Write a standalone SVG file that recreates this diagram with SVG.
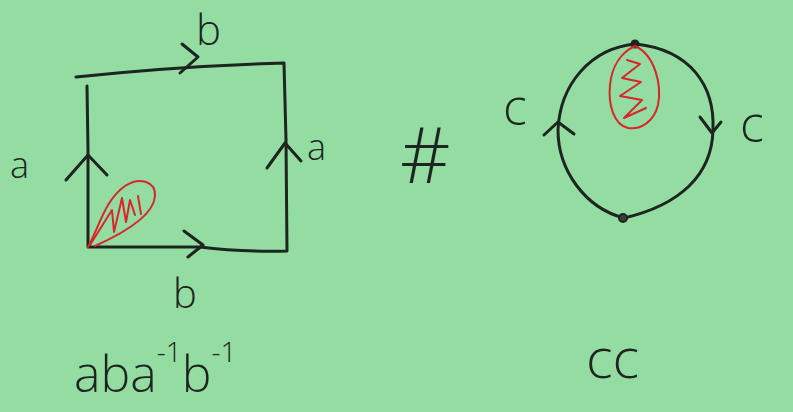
<svg xmlns="http://www.w3.org/2000/svg" width="793" height="412" viewBox="0 0 793 412">
<style>
.ink{fill:none;stroke:#1e2420;stroke-width:3;stroke-linecap:round;stroke-linejoin:round}
.red{fill:none;stroke:#d8262a;stroke-width:2;stroke-linecap:round;stroke-linejoin:round}
.t{font-family:"Open Sans","DejaVu Sans",sans-serif;font-weight:300;fill:#1e2420}
</style>
<rect width="793" height="412" fill="#93dda2"/>
<g id="square">
<path class="ink" d="M76,77 Q180,66 284,63 L286,140 L287,251 Q240,252 200,247 L88,247 L88,150 L87,86"/>
</g>
<g id="connectors">
<path class="ink" d="M66,180 L88,155 L107,175"/>
<path class="ink" d="M267,168 L285,143 L301,161"/>
<path class="ink" d="M184,231 L203,245 L188,257"/>
<path class="ink" d="M182,44 L198,57 L180,73"/>
<path class="ink" d="M636,44 C690,50 715,85 713,130 C712,175 680,205 624,218"/>
<path class="ink" d="M624,218 C585,208 558,170 558,130 C560,85 590,48 636,44"/>
<path class="ink" d="M544,135 L558,122 L574,134"/>
<path class="ink" d="M700,117 L712,133 L721,122"/>
</g>
<g id="node-top"><circle cx="635" cy="44" r="4.5" fill="#1e2420"/></g>
<g id="node-bottom"><circle cx="623" cy="218" r="4" fill="#3a3f3a" stroke="#1e2420" stroke-width="2"/></g>
<g id="disk-square">
<path class="red" d="M88,247 C100,225 105,200 125,186 C140,176 156,182 155,196 C154,212 135,228 95,246"/>
<path class="red" d="M90,245 L112,210 L114,232 L122,198 L126,222 L130,200 L135,215 M138,196 L141,214"/>
</g>
<g id="disk-circle">
<path class="red" d="M635,46 C655,55 662,85 658,105 C654,122 640,130 628,128 C614,125 608,105 610,85 C612,65 622,52 635,46 Z"/>
<path class="red" d="M627,60 L640,64 L622,78 L641,82 L620,96 L642,100 L624,118 L646,108"/>
</g>
<g id="labels">
<text class="t" x="196" y="45" font-size="42">b</text>
<text class="t" x="10" y="178" font-size="36">a</text>
<text class="t" x="307" y="160" font-size="36">a</text>
<text class="t" x="173" y="308" font-size="40">b</text>
<text class="t" x="400" y="183" font-size="78">#</text>
<text class="t" x="503" y="125" font-size="50">c</text>
<text class="t" x="740" y="142" font-size="50">c</text>
<text class="t" x="74" y="392" font-size="50">aba<tspan font-size="28" dy="-30">-1</tspan><tspan dy="30">b</tspan><tspan font-size="28" dy="-30">-1</tspan></text>
<text class="t" x="586" y="378" font-size="56">cc</text>
</g>
</svg>
